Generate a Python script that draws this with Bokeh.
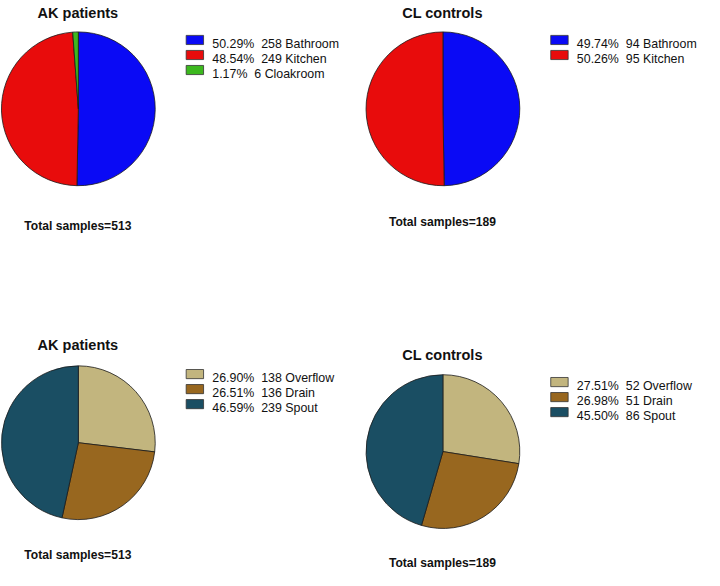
import math
from bokeh.plotting import figure
from bokeh.models import Range1d, ColumnDataSource
from bokeh.core.properties import value
from bokeh.embed import file_html
from bokeh.resources import INLINE

# ---------------- data ----------------
location_labels_ak = ["Bathroom", "Kitchen", "Cloakroom"]
location_counts_ak = [258, 249, 6]
location_colors_ak = ["#0A0AF5", "#E80C0C", "#3CB81E"]

location_labels_cl = ["Bathroom", "Kitchen"]
location_counts_cl = [94, 95]
location_colors_cl = ["#0A0AF5", "#E80C0C"]

site_labels = ["Overflow", "Drain", "Spout"]
site_counts_ak = [138, 136, 239]
site_counts_cl = [52, 51, 86]
site_colors = ["#C2B57E", "#98671F", "#1A4E63"]

titles = ["AK patients", "CL controls", "AK patients", "CL controls"]

# ---------------- layout (reference pixel space, y downward) ----------------
W, H = 720, 586
FONT = "Liberation Sans"

p = figure(width=704, height=570, output_backend="svg", toolbar_location=None,
           x_range=Range1d(0, 728), y_range=Range1d(-5, H + 1),
           min_border=0, min_border_left=0, min_border_right=0,
           min_border_top=0, min_border_bottom=0)
p.axis.visible = False
p.grid.visible = False
p.outline_line_color = None
p.background_fill_color = "white"
p.border_fill_color = "white"


def Y(y):
    return H - y


panels = [
    dict(labels=location_labels_ak, counts=location_counts_ak, colors=location_colors_ak,
         cx=80.5, cy=111.5, title_y=12.5, total_y=232.7, legend_x=192, rows_y=40.0, tx=80),
    dict(labels=location_labels_cl, counts=location_counts_cl, colors=location_colors_cl,
         cx=457.5, cy=111.5, title_y=12.5, total_y=229.3, legend_x=569, rows_y=40.0, tx=457),
    dict(labels=site_labels, counts=site_counts_ak, colors=site_colors,
         cx=80.5, cy=458.3, title_y=357.3, total_y=574.7, legend_x=192, rows_y=387.0, tx=80),
    dict(labels=site_labels, counts=site_counts_cl, colors=site_colors,
         cx=457.5, cy=467.5, title_y=366.7, total_y=582.7, legend_x=569, rows_y=395.3, tx=457),
]

R = 79.5
ROW = 15.6

for i, pan in enumerate(panels):
    counts = pan["counts"]
    total = sum(counts)
    cum = 0
    starts, ends = [], []
    for c in counts:
        a0 = math.pi / 2 - 2 * math.pi * cum / total
        cum += c
        a1 = math.pi / 2 - 2 * math.pi * cum / total
        starts.append(a1)
        ends.append(a0)
    src = ColumnDataSource(dict(start=starts, end=ends, color=pan["colors"],
                                x=[pan["cx"]] * len(counts), y=[Y(pan["cy"])] * len(counts)))
    p.wedge(x="x", y="y", radius=R, start_angle="start", end_angle="end",
            direction="anticlock", fill_color="color", line_color="#1a1a1a",
            line_width=0.8, source=src)

    # title
    p.text(x=[pan["tx"]], y=[Y(pan["title_y"])], text=[titles[i]],
           text_font=value(FONT), text_font_style="bold", text_font_size="14.5px",
           text_align="center", text_baseline="alphabetic", text_color="#111111")
    # total
    p.text(x=[pan["tx"]], y=[Y(pan["total_y"])], text=["Total samples=%d" % total],
           text_font=value(FONT), text_font_style="bold", text_font_size="12.1px",
           text_align="center", text_baseline="alphabetic", text_color="#111111")

    # legend
    lx = pan["legend_x"]
    ys = [pan["rows_y"] + k * ROW for k in range(len(counts))]
    labels = ["%.2f%%\u00a0 %d %s" % (100.0 * c / total, c, lab)
              for c, lab in zip(counts, pan["labels"])]
    p.rect(x=[lx + 9] * len(counts), y=[Y(v) for v in ys], width=18, height=9.5,
           fill_color=pan["colors"], line_color="#333333", line_width=0.8)
    p.text(x=[lx + 27] * len(counts), y=[Y(v + 4.5) for v in ys], text=labels,
           text_font=value(FONT), text_font_size="12.4px",
           text_align="left", text_baseline="alphabetic", text_color="#111111")

open("out.html", "w").write(file_html(p, INLINE))
